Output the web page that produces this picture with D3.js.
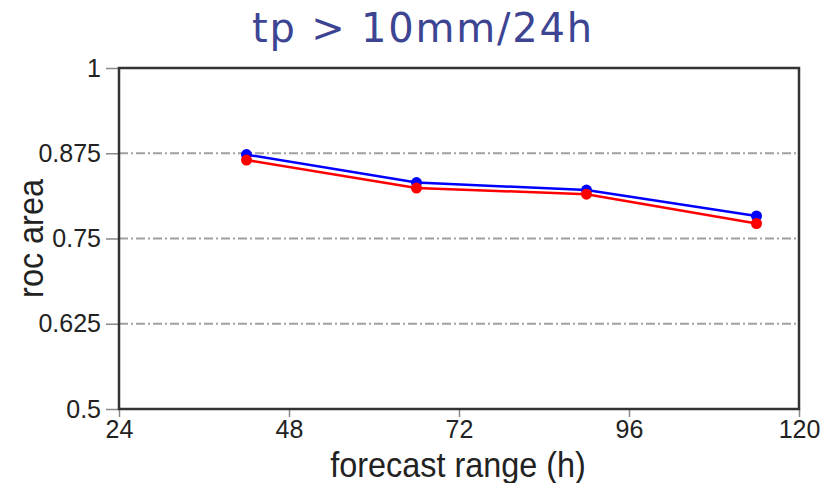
<!DOCTYPE html>
<html>
<head>
<meta charset="utf-8">
<script src="https://cdn.jsdelivr.net/npm/d3@7"></script>
<style>
  html, body { margin: 0; padding: 0; background: #fff; }
  svg { display: block; }
</style>
</head>
<body>
<svg id="chart" width="838" height="483"></svg>
<script>
// Forecast lead times (hours) and ROC area scores for two systems
const leadTimes = [42, 66, 90, 114];
const seriesBlue = [0.873, 0.832, 0.821, 0.783];
const seriesRed = [0.865, 0.824, 0.815, 0.772];
const xTicks = [24, 48, 72, 96, 120];
const yTicks = [0.5, 0.625, 0.75, 0.875, 1];
const gridValues = [0.625, 0.75, 0.875];

const svg = d3.select("#chart");
const margin = { left: 119, right: 39, top: 68, bottom: 74 };
const W = 838, H = 483;

const x = d3.scaleLinear().domain([24, 120]).range([margin.left, W - margin.right]);
const y = d3.scaleLinear().domain([0.5, 1]).range([H - margin.bottom, margin.top]);

const axisColor = "#333";
const font = "'Liberation Sans', Arial, sans-serif";

// Title
svg.append("text")
  .attr("x", 252).attr("y", 42)
  .attr("font-family", "'DejaVu Sans', Verdana, sans-serif")
  .attr("font-size", 40)
  .attr("letter-spacing", 1.8)
  .attr("fill", "#3d4593")
  .text("tp > 10mm/24h");

// Dash-dot grid lines
svg.append("g").selectAll("line").data(gridValues).join("line")
  .attr("x1", x(24)).attr("x2", x(120))
  .attr("y1", d => y(d)).attr("y2", d => y(d))
  .attr("stroke", "#a0a0a0").attr("stroke-width", 2)
  .attr("stroke-dasharray", "9,3,2,3");

// Axes
const xAxis = svg.append("g")
  .attr("transform", `translate(0,${y(0.5)})`)
  .call(d3.axisBottom(x).tickValues(xTicks).tickSize(8).tickPadding(3).tickFormat(d3.format("d")));
const yAxis = svg.append("g")
  .attr("transform", `translate(${x(24)},0)`)
  .call(d3.axisLeft(y).tickValues(yTicks).tickSize(13).tickPadding(5).tickFormat(d => String(d)));

[xAxis, yAxis].forEach(g => {
  g.select(".domain").remove();
  g.selectAll(".tick line").attr("stroke", "#888").attr("stroke-width", 1.5);
  g.selectAll(".tick text")
    .attr("font-family", font).attr("font-size", 25).attr("fill", "#222");
});

// Frame around the plot area
svg.append("rect")
  .attr("x", x(24)).attr("y", y(1))
  .attr("width", x(120) - x(24)).attr("height", y(0.5) - y(1))
  .attr("fill", "none").attr("stroke", axisColor).attr("stroke-width", 2.5);

// Axis titles (narrow lettering)
svg.append("text")
  .attr("transform", "translate(458,477) scale(0.9,1)")
  .attr("text-anchor", "middle")
  .attr("font-family", font).attr("font-size", 36).attr("fill", "#222")
  .text("forecast range (h)");
svg.append("text")
  .attr("transform", `translate(43,${(y(0.5) + y(1)) / 2}) rotate(-90) scale(0.9,1)`)
  .attr("text-anchor", "middle")
  .attr("font-family", font).attr("font-size", 36).attr("fill", "#222")
  .text("roc area");

// Series lines and markers
const line = d3.line().x((d, i) => x(leadTimes[i])).y(d => y(d));
[[seriesBlue, "#0000ff"], [seriesRed, "#ff0000"]].forEach(([vals, col]) => {
  svg.append("path").datum(vals)
    .attr("d", line).attr("fill", "none")
    .attr("stroke", col).attr("stroke-width", 2.5);
  svg.append("g").selectAll("circle").data(vals).join("circle")
    .attr("cx", (d, i) => x(leadTimes[i])).attr("cy", d => y(d))
    .attr("r", 5.5).attr("fill", col);
});
</script>
</body>
</html>
